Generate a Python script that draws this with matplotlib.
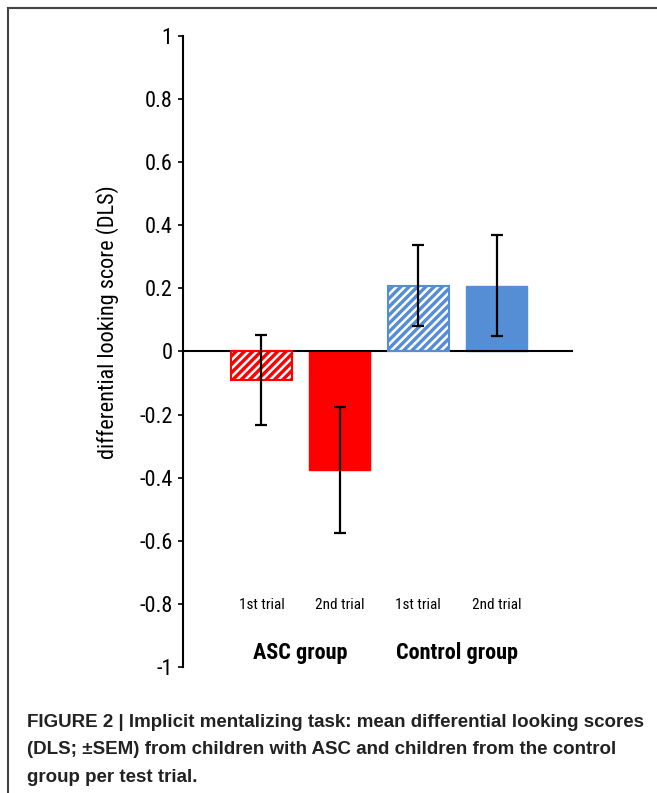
import matplotlib
matplotlib.use("Agg")
import matplotlib.pyplot as plt
from matplotlib.lines import Line2D

# data
trials = ["1st trial", "2nd trial", "1st trial", "2nd trial"]
groups = ["ASC group", "Control group"]
dls_mean = [-0.09, -0.375, 0.209, 0.209]
dls_sem = [0.143, 0.200, 0.128, 0.160]
hatched = [True, False, True, False]
colors = ["#FF0000", "#FF0000", "#558ED5", "#558ED5"]
yticks = [1, 0.8, 0.6, 0.4, 0.2, 0, -0.2, -0.4, -0.6, -0.8, -1]

narrow = ["Roboto Condensed", "Liberation Sans Narrow", "Roboto", "DejaVu Sans"]
caption_font = ["Liberation Sans", "DejaVu Sans"]
plt.rcParams["hatch.linewidth"] = 1.8

fig = plt.figure(figsize=(6.57, 7.93), dpi=100)
ax = fig.add_axes([0.2785, 0.1589, 0.592, 0.7957])

x = list(range(len(dls_mean)))
for i in x:
    if hatched[i]:
        ax.bar(i, dls_mean[i], width=0.78, color=colors[i], edgecolor="white",
               hatch="////", linewidth=0, zorder=2)
        ax.bar(i, dls_mean[i], width=0.78, fill=False, edgecolor=colors[i],
               linewidth=1.5, zorder=3)
    else:
        ax.bar(i, dls_mean[i], width=0.78, color=colors[i], edgecolor=colors[i],
               linewidth=1, zorder=2)
ax.errorbar(x, dls_mean, yerr=dls_sem, fmt="none", ecolor="black",
            elinewidth=1.6, capsize=4, capthick=1.6, zorder=4)

ax.set_xlim(-1.0, 3.96)
ax.set_ylim(-1, 1)
ax.set_yticks(yticks)
ax.set_yticklabels([f"{v:g}" for v in yticks], family=narrow, fontsize=16)
ax.tick_params(axis="y", direction="out", length=3.5, width=1.2, pad=4)
ax.set_xticks([])

for s in ["top", "right"]:
    ax.spines[s].set_visible(False)
ax.spines["bottom"].set_position(("data", 0))
ax.spines["bottom"].set_linewidth(1.5)
ax.spines["left"].set_linewidth(1.5)

ax.set_ylabel("differential looking score (DLS)", family=narrow, fontsize=16)
ax.yaxis.set_label_coords(-0.165, 0.547)

for i, t in enumerate(trials):
    ax.text(i, -0.805, t, ha="center", va="center", family=narrow, fontsize=11)
for g, gx in zip(groups, [0.5, 2.5]):
    ax.text(gx, -0.955, g, ha="center", va="center", family=narrow,
            fontsize=16, fontweight="bold")

# border lines of the figure panel
fig.add_artist(Line2D([8 / 657, 1], [1 - 8 / 793] * 2, color="#444444", lw=1.5))
fig.add_artist(Line2D([8 / 657] * 2, [0, 1 - 8 / 793], color="#444444", lw=1.5))

caption = ("FIGURE 2 | Implicit mentalizing task: mean differential looking scores\n"
           "(DLS; \u00b1SEM) from children with ASC and children from the control\n"
           "group per test trial.")
fig.text(27 / 657, 1 - 714 / 793, caption, ha="left", va="top",
         family=caption_font, fontsize=13.5, fontweight="bold", color="#222222",
         linespacing=1.8)

fig.savefig("out.png", dpi=100)
